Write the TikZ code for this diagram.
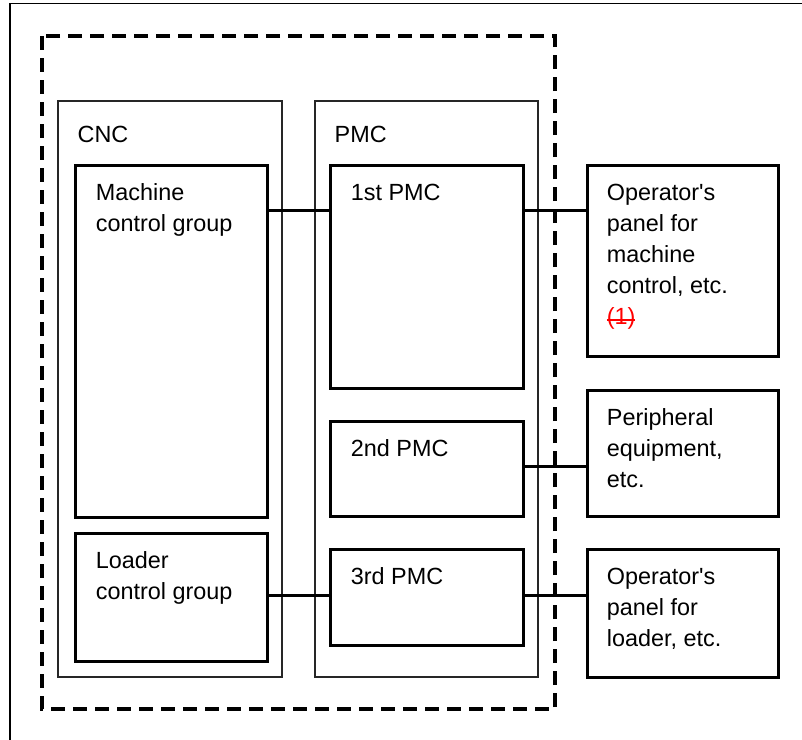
\documentclass[tikz,border=0pt]{standalone}
\usepackage{fontspec}
\setmainfont{Liberation Sans}[Ligatures=TeXOff]
\usetikzlibrary{fit,calc}
\newcommand{\lines}[1]{\begin{tabular}[t]{@{}l@{}}#1\end{tabular}}
\begin{document}
\begin{tikzpicture}[x=0.5pt,y=-0.5pt,
  thickbox/.style={draw=black,line width=1.5pt,inner sep=0pt},
  thinbox/.style={draw=black!85,line width=0.7pt,inner sep=0pt},
  conn/.style={draw=black,line width=1.5pt},
  txt/.style={font=\fontsize{11.7pt}{15.5pt}\selectfont,inner sep=0pt,anchor=base west}]
\useasboundingbox (0,0) rectangle (802,739);
\begin{scope}
\clip (0,0) rectangle (802,739);
\draw[line width=0.9pt] (10,760) -- (10,3.5) -- (820,3.5);
\end{scope}
\draw[line width=2pt,dash pattern=on 7pt off 4pt] (42,36) rectangle (555,709);
% containers
\node[thinbox,fit={(58,101) (282,677)}] (cnc) {};
\node[thinbox,fit={(315,101) (538,677)}] (pmc) {};
\node[txt] at ($(cnc.north west)+(20,42)$) {CNC};
\node[txt] at ($(pmc.north west)+(20,42)$) {PMC};
% inner boxes
\node[thickbox,fit={(75,165) (267,517)}] (mcg) {};
\node[thickbox,fit={(75,533) (267,661)}] (lcg) {};
\node[thickbox,fit={(330,165) (523,388)}] (p1) {};
\node[thickbox,fit={(330,421) (523,516)}] (p2) {};
\node[thickbox,fit={(330,549) (523,645)}] (p3) {};
\node[thickbox,fit={(587,165) (778,356)}] (o1) {};
\node[thickbox,fit={(587,390) (778,516)}] (pe) {};
\node[thickbox,fit={(587,549) (778,677)}] (o3) {};
% texts
\node[txt] at ($(mcg.north west)+(22,37)$) {\lines{Machine\\control group}};
\node[txt] at ($(lcg.north west)+(22,37)$) {\lines{Loader\\control group}};
\node[txt] at ($(p1.north west)+(22,37)$) {1st PMC};
\node[txt] at ($(p2.north west)+(22,37)$) {2nd PMC};
\node[txt] at ($(p3.north west)+(22,37)$) {3rd PMC};
\node[txt] at ($(o1.north west)+(21,37)$) {\lines{Operator's\\panel for\\machine\\control, etc.\\{\color{red}\rlap{\rule[0.17em]{1.22em}{1pt}}(1)}}};
\node[txt] at ($(pe.north west)+(21,37)$) {\lines{Peripheral\\equipment,\\etc.}};
\node[txt] at ($(o3.north west)+(21,37)$) {\lines{Operator's\\panel for\\loader, etc.}};
% connectors
\draw[conn] ($(mcg.north east)+(0,47)$) -- ($(p1.north west)+(0,47)$);
\draw[conn] ($(p1.north east)+(0,47)$) -- ($(o1.north west)+(0,47)$);
\draw[conn] ($(p2.north east)+(0,47)$) -- ($(pe.north west)+(0,78)$);
\draw[conn] ($(lcg.north east)+(0,64)$) -- ($(p3.north west)+(0,48)$);
\draw[conn] ($(p3.north east)+(0,48)$) -- ($(o3.north west)+(0,48)$);
\end{tikzpicture}
\end{document}
